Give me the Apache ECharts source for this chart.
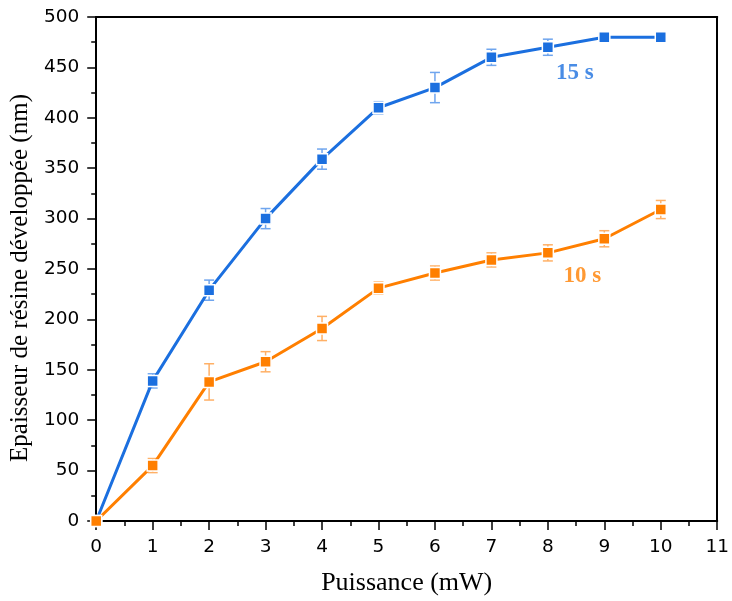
<!DOCTYPE html>
<html><head><meta charset="utf-8">
<script src="https://cdn.jsdelivr.net/npm/echarts@6/dist/echarts.min.js"></script>
<style>html,body{margin:0;padding:0;background:#fff}#c{width:732px;height:601px}</style>
</head><body><div id="c"></div>
<script>
const power = [0,1,2,3,4,5,6,7,8,9,10];
const thick15 = [0,139,229,300,359,410,430,460,470,480,480];
const err15 = [0,7,10,10,10,6,15,8,8,5,5];
const thick10 = [0,55,138,158,191,231,246,259,266,280,309];
const err10 = [0,7,18,10,12,6,7,7,8,8,9];
const labels = [{text:'15 s', x:8.48, y:444}, {text:'10 s', x:8.61, y:243}];
const blue = '#1b6fdf', orange = '#ff7f00';
const blueErr = '#6fa5ee', orangeErr = '#ffb066';

function pts(v){ return power.map((x,i)=>[x,v[i]]); }
function errData(v,e){ return power.map((x,i)=>[x,v[i]-e[i],v[i]+e[i]]); }
function errSeries(v,e,col){
  return {
    type:'custom', z:3,
    renderItem:function(params, api){
      const x = api.value(0);
      const lo = api.coord([x, api.value(1)]);
      const hi = api.coord([x, api.value(2)]);
      const hw = 5;
      const st = {stroke:col, lineWidth:1.5, fill:null};
      return {type:'group', children:[
        {type:'line', shape:{x1:lo[0],y1:lo[1],x2:hi[0],y2:hi[1]}, style:st},
        {type:'line', shape:{x1:lo[0]-hw,y1:lo[1],x2:lo[0]+hw,y2:lo[1]}, style:st},
        {type:'line', shape:{x1:hi[0]-hw,y1:hi[1],x2:hi[0]+hw,y2:hi[1]}, style:st}
      ]};
    },
    encode:{x:0, y:[1,2]},
    data: errData(v,e)
  };
}
const chart = echarts.init(document.getElementById('c'));
const tickFont = {color:'#000', fontSize:18.5, fontFamily:'DejaVu Sans, Liberation Sans, Arial'};
const serif = 'Liberation Serif, Times New Roman, serif';
chart.setOption({
  animation:false,
  grid:{left:94, right:11, top:17, bottom:80},
  xAxis:[{
    type:'value', min:0, max:11, interval:1,
    name:'Puissance (mW)', nameLocation:'middle', nameGap:49,
    nameTextStyle:{color:'#000', fontSize:26, fontFamily:serif},
    axisLine:{onZero:false, lineStyle:{color:'#000', width:2}},
    axisTick:{show:true, length:9, lineStyle:{color:'#000', width:1.5}},
    minorTick:{show:true, splitNumber:2, length:5, lineStyle:{color:'#000', width:1.5}},
    splitLine:{show:false},
    axisLabel:Object.assign({margin:17}, tickFont)
  },{
    type:'value', position:'top', min:0, max:11,
    axisLine:{show:true, onZero:false, lineStyle:{color:'#000', width:2}},
    axisTick:{show:false}, axisLabel:{show:false}, splitLine:{show:false}
  }],
  yAxis:[{
    type:'value', min:0, max:500, interval:50,
    name:'Epaisseur de résine développée (nm)', nameLocation:'middle', nameGap:60,
    nameTextStyle:{color:'#000', fontSize:25, fontFamily:serif, padding:[0,18,0,0]},
    axisLine:{show:true, onZero:false, lineStyle:{color:'#000', width:2}},
    axisTick:{show:true, length:9, lineStyle:{color:'#000', width:1.5}},
    minorTick:{show:true, splitNumber:2, length:5, lineStyle:{color:'#000', width:1.5}},
    splitLine:{show:false},
    axisLabel:Object.assign({margin:17}, tickFont)
  },{
    type:'value', position:'right', min:0, max:500,
    axisLine:{show:true, onZero:false, lineStyle:{color:'#000', width:2}},
    axisTick:{show:false}, axisLabel:{show:false}, splitLine:{show:false}
  }],
  series:[
    errSeries(thick15, err15, blueErr),
    errSeries(thick10, err10, orangeErr),
    {type:'line', data:pts(thick15), symbol:'rect', symbolSize:11, z:4,
     lineStyle:{color:blue, width:3}, itemStyle:{color:blue, borderColor:'#fff', borderWidth:1.5}},
    {type:'line', data:pts(thick10), symbol:'rect', symbolSize:11, z:5,
     lineStyle:{color:orange, width:3}, itemStyle:{color:orange, borderColor:'#fff', borderWidth:1.5}},
    {type:'scatter', symbolSize:0, silent:true, z:6,
     data: labels.map((l,i)=>({value:[l.x,l.y], label:{show:true, position:'inside', formatter:l.text,
       color: i===0?blue:orange, fontSize:23, fontWeight:'bold', fontFamily:serif}}))}
  ]
});
</script></body></html>
